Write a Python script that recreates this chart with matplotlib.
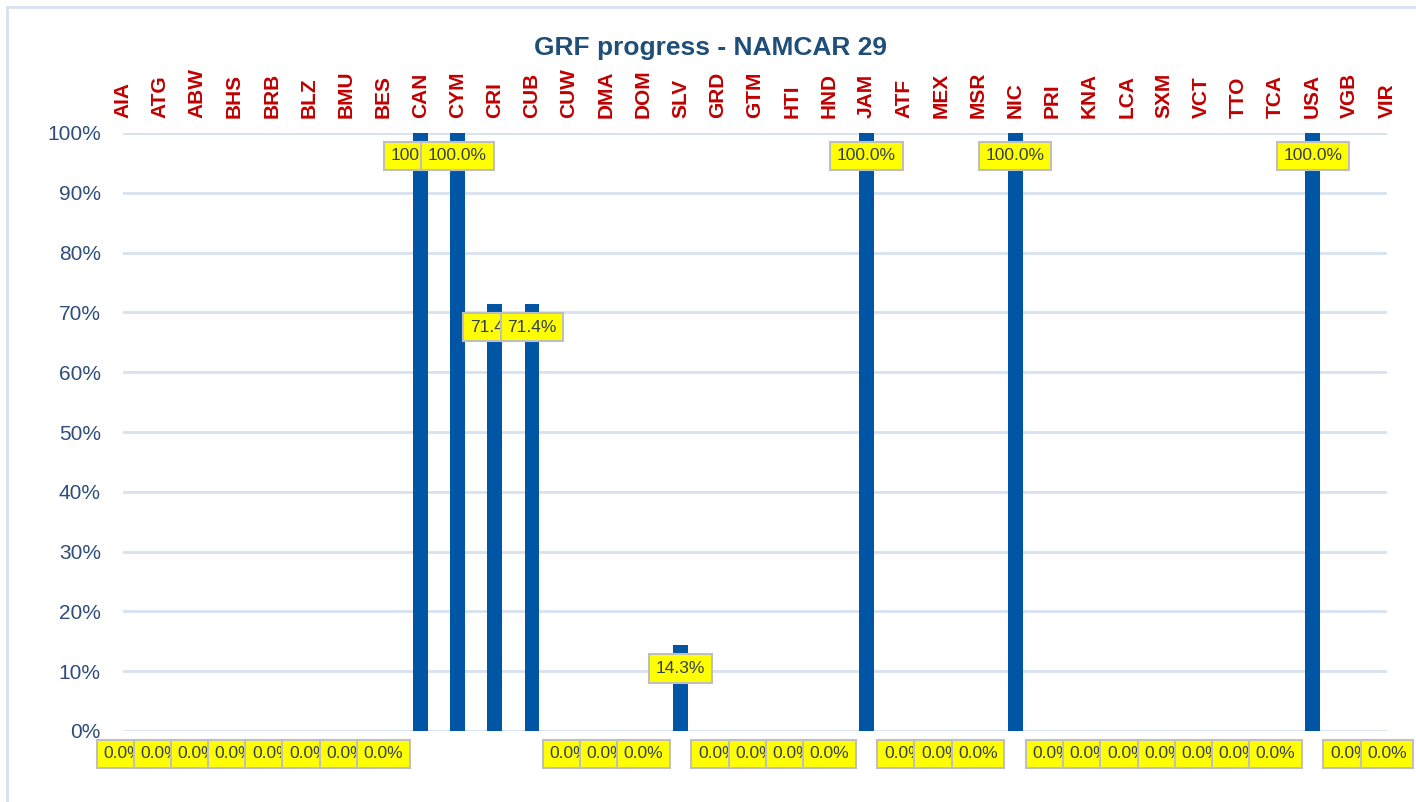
import numpy as np
import matplotlib.pyplot as plt
from matplotlib.patches import Rectangle

# ========== 数据 ==========
countries = ['AIA', 'ATG', 'ABW', 'BHS', 'BRB', 'BLZ', 'BMU', 'BES', 'CAN', 'CYM',
             'CRI', 'CUB', 'CUW', 'DMA', 'DOM', 'SLV', 'GRD', 'GTM', 'HTI', 'HND',
             'JAM', 'ATF', 'MEX', 'MSR', 'NIC', 'PRI', 'KNA', 'LCA', 'SXM', 'VCT',
             'TTO', 'TCA', 'USA', 'VGB', 'VIR']
progress = [0, 0, 0, 0, 0, 0, 0, 0, 100.0, 100.0,
            71.4, 71.4, 0, 0, 0, 14.3, 0, 0, 0, 0,
            100.0, 0, 0, 0, 100.0, 0, 0, 0, 0, 0,
            0, 0, 100.0, 0, 0]
yticks = [0, 10, 20, 30, 40, 50, 60, 70, 80, 90, 100]
title = 'GRF progress - NAMCAR 29'

BAR = '#0055A5'
GRID = '#D6E2F0'
AXIS_TXT = '#2E4D7B'
LABEL_RED = '#C00000'
TITLE_CLR = '#1F4E79'

W, H = 1416, 802
fig = plt.figure(figsize=(W / 100, H / 100), dpi=100)
ax = fig.add_axes([123 / W, 1 - 731 / H, (1387 - 123) / W, (731 - 133) / H])

x = np.arange(len(countries))
vals = np.array(progress) / 100.0
ax.bar(x, vals, width=0.4, color=BAR, zorder=3)

ax.set_xlim(0, len(countries) - 1)
ax.set_ylim(0, 1)
ax.set_yticks(np.array(yticks) / 100.0)
ax.set_yticklabels([f'{t}%' for t in yticks], color=AXIS_TXT,
                   fontsize=15, fontfamily='Liberation Sans')
ax.yaxis.grid(True, color=GRID, lw=2, zorder=0)
ax.tick_params(axis='y', length=0, pad=16)

ax.xaxis.tick_top()
ax.set_xticks(x)
ax.set_xticklabels(countries, rotation=90, color=LABEL_RED, fontsize=15,
                   fontweight='bold', fontfamily='Liberation Sans')
ax.tick_params(axis='x', length=0, pad=11)
for s in ax.spines.values():
    s.set_visible(False)

# 数据标签（黄色框，后画的覆盖前面的）
for i, v in enumerate(vals):
    ax.annotate(f'{v * 100:.1f}%', (i, v), xytext=(0, -23), textcoords='offset pixels',
                ha='center', va='center', fontsize=12.5, color='#333F50',
                fontfamily='Liberation Sans', annotation_clip=False, zorder=10 + i,
                bbox=dict(boxstyle='square,pad=0.38', fc='#FFFF00', ec='#BFBFBF', lw=1.5))

fig.text(711 / W, 1 - 48 / H, title, ha='center', va='center', fontsize=19,
         fontweight='bold', color=TITLE_CLR, fontfamily='Liberation Sans')

# 外边框
fig.patches.append(Rectangle((7 / W, -0.1), 1.2, 1 - 7 / H + 0.1, transform=fig.transFigure,
                             fill=False, ec=GRID, lw=2))

fig.savefig('out.png', dpi=100)
